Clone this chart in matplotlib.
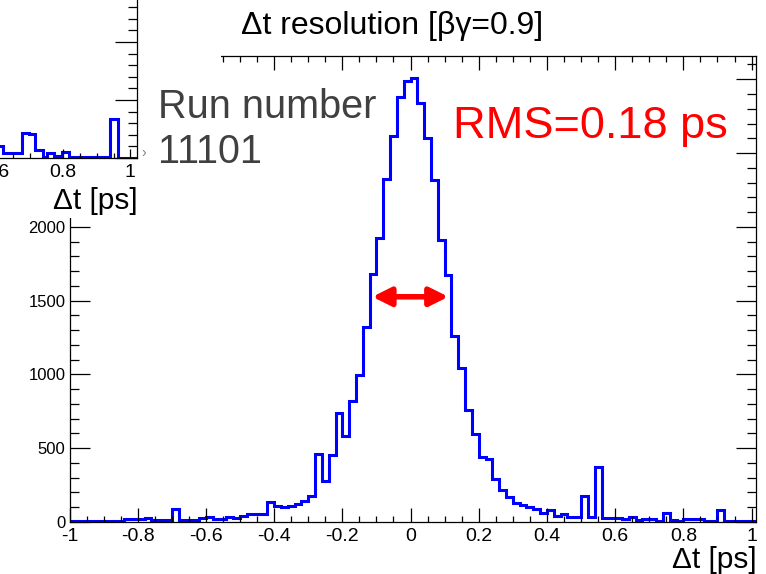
import numpy as np
import matplotlib.pyplot as plt
from matplotlib.ticker import MultipleLocator, FuncFormatter

plt.rcParams['font.family'] = ['Liberation Sans', 'DejaVu Sans']

# main histogram: dt resolution, 0.02 ps bins from -1 to 1.02
bin_lo, bin_width, n_bins = -1.0, 0.02, 101
counts = [9, 9, 9, 9, 6, 6, 6, 6, 20, 20,
          20, 25, 14, 14, 14, 88, 11, 11, 11, 25,
          32, 20, 20, 37, 30, 41, 51, 54, 54, 137,
          109, 99, 109, 122, 144, 178, 464, 278, 457, 740,
          580, 821, 999, 1319, 1683, 1922, 2321, 2616, 2879, 2991,
          3007, 2842, 2605, 2314, 1909, 1672, 1261, 1046, 756, 598,
          440, 428, 292, 214, 172, 130, 115, 99, 88, 58,
          81, 41, 51, 37, 37, 178, 32, 370, 25, 27,
          25, 20, 37, 14, 18, 18, 9, 58, 14, 9,
          20, 18, 18, 9, 9, 81, 9, 9, 9, 9,
          9]

# FWHM arrow
arrow_x = (-0.112, 0.111)
arrow_y = 1526

# piece of another run's histogram pasted in the top left corner
inset_edges = [0.50, 0.619, 0.676, 0.698, 0.716, 0.739, 0.751, 0.773, 0.796, 0.818, 0.938, 0.962, 1.03]
inset_counts = [103, 39, 216, 203, 69, 9, 39, 17, 52, 9, 332, 2]

title = '\u0394t resolution [\u03b2\u03b3=0.9]'
xlabel = '\u0394t [ps]'

W, H = 766, 574


def fx(px):
    return px / W


def fy(py):
    # pixel row (from top) -> figure fraction
    return 1 - py / H


def fmt(v, pos):
    return '%g' % (round(v, 6) + 0.0)


fig = plt.figure(figsize=(W / 100, H / 100), dpi=100)

# main frame
ax = fig.add_axes([fx(69.5), fy(522), fx(756 - 69.5), (522 - 56) / H])
edges = bin_lo + bin_width * np.arange(n_bins + 1)
ax.stairs(counts, edges, color='#0000ff', lw=2.2, baseline=None)
ax.set_xlim(-1, 1.013)
ax.set_ylim(0, max(counts) * 1.05)

ax.xaxis.set_major_locator(MultipleLocator(0.2))
ax.xaxis.set_minor_locator(MultipleLocator(0.05))
ax.yaxis.set_major_locator(MultipleLocator(500))
ax.yaxis.set_minor_locator(MultipleLocator(100))
ax.xaxis.set_major_formatter(FuncFormatter(fmt))
ax.tick_params(which='both', direction='in', top=True, right=True, width=0.9)
ax.tick_params(axis='x', which='major', length=10, labelsize=14, pad=4)
ax.tick_params(axis='x', which='minor', length=4.5)
ax.tick_params(axis='y', which='major', length=14.4, labelsize=12, pad=3)
ax.tick_params(axis='y', which='minor', length=6.8)
for s in ax.spines.values():
    s.set_linewidth(0.9)

ax.annotate('', xy=(arrow_x[1], arrow_y), xytext=(arrow_x[0], arrow_y),
            arrowprops=dict(arrowstyle='<|-|>,head_length=1.1,head_width=0.55',
                            color='#ff0000', lw=4.0, shrinkA=0, shrinkB=0,
                            mutation_scale=10))

# white patch of the pasted picture
cov = fig.add_axes([0, fy(218), fx(221), 218 / H])
cov.set_xticks([])
cov.set_yticks([])
for s in cov.spines.values():
    s.set_visible(False)

# the pasted histogram itself, partly outside the canvas
ins_w = 0.52 * 335
ins = fig.add_axes([fx(137 - ins_w), fy(158), fx(ins_w), 174 / H])
ins.stairs(inset_counts, inset_edges, color='#0000ff', lw=2.2, baseline=None)
ins.set_xlim(0.5, 1.02)
ins.set_ylim(0, 1500)
ins.xaxis.set_major_locator(MultipleLocator(0.2))
ins.xaxis.set_minor_locator(MultipleLocator(0.05))
ins.yaxis.set_major_locator(MultipleLocator(500))
ins.yaxis.set_minor_locator(MultipleLocator(100))
ins.xaxis.set_major_formatter(FuncFormatter(fmt))
ins.tick_params(which='both', direction='in', top=True, right=True,
                labelleft=False, width=0.9)
ins.tick_params(axis='x', which='major', length=6.5, labelsize=14, pad=4)
ins.tick_params(axis='x', which='minor', length=3.6)
ins.tick_params(axis='y', which='major', length=16)
ins.tick_params(axis='y', which='minor', length=6.5)
for s in ins.spines.values():
    s.set_linewidth(0.9)

# texts
fig.text(fx(241), fy(34), title, fontsize=23, ha='left', va='baseline')
fig.text(fx(757), fy(568), xlabel, fontsize=21.5, ha='right', va='baseline')
fig.text(fx(137.5), fy(209), xlabel, fontsize=21.5, ha='right', va='baseline')
fig.text(fx(158), fy(118), 'Run number', fontsize=28.5, color='#404040',
         ha='left', va='baseline')
fig.text(fx(158), fy(163), '11101', fontsize=28.5, color='#404040',
         ha='left', va='baseline')
fig.text(fx(453), fy(138), 'RMS=0.18 ps', fontsize=32.5, color='#ff0000',
         ha='left', va='baseline')
fig.text(fx(143.5), fy(153), '\u203a', fontsize=10, color='#808080',
         ha='center', va='center')

fig.savefig('out.png', dpi=100)
